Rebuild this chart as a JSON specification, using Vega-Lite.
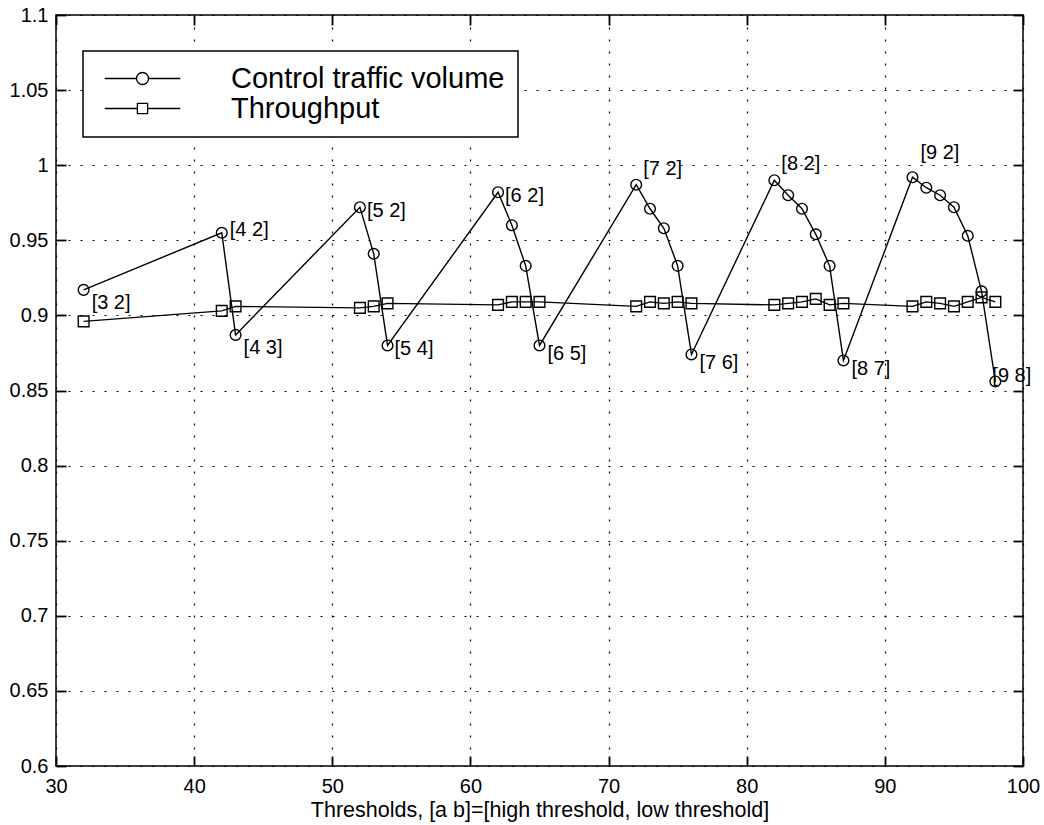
{
  "$schema": "https://vega.github.io/schema/vega-lite/v6.json",
  "width": 967,
  "height": 751,
  "autosize": {"type": "none"},
  "padding": {"left": 56, "top": 15, "right": 21, "bottom": 59},
  "background": "white",
  "config": {
    "font": "Liberation Sans",
    "view": {"stroke": "black", "strokeWidth": 1.5},
    "axis": {
      "domainColor": "black", "domainWidth": 1.5,
      "tickColor": "black", "tickWidth": 1.8,
      "labelColor": "black", "titleColor": "black",
      "gridColor": "black", "gridDash": [2, 10], "gridWidth": 1.2, "gridOpacity": 1,
      "labelFontSize": 20, "titleFontSize": 21.5, "titleFontWeight": "normal"
    },
    "legend": {"strokeWidth": 1.5}
  },
  "data": {
    "values": [
      {"threshold": 32, "value": 0.917, "series": "Control traffic volume", "label": "[3 2]"},
      {"threshold": 42, "value": 0.955, "series": "Control traffic volume", "label": "[4 2]"},
      {"threshold": 43, "value": 0.887, "series": "Control traffic volume", "label": "[4 3]"},
      {"threshold": 52, "value": 0.972, "series": "Control traffic volume", "label": "[5 2]"},
      {"threshold": 53, "value": 0.941, "series": "Control traffic volume", "label": ""},
      {"threshold": 54, "value": 0.880, "series": "Control traffic volume", "label": "[5 4]"},
      {"threshold": 62, "value": 0.982, "series": "Control traffic volume", "label": "[6 2]"},
      {"threshold": 63, "value": 0.960, "series": "Control traffic volume", "label": ""},
      {"threshold": 64, "value": 0.933, "series": "Control traffic volume", "label": ""},
      {"threshold": 65, "value": 0.880, "series": "Control traffic volume", "label": "[6 5]"},
      {"threshold": 72, "value": 0.987, "series": "Control traffic volume", "label": "[7 2]"},
      {"threshold": 73, "value": 0.971, "series": "Control traffic volume", "label": ""},
      {"threshold": 74, "value": 0.958, "series": "Control traffic volume", "label": ""},
      {"threshold": 75, "value": 0.933, "series": "Control traffic volume", "label": ""},
      {"threshold": 76, "value": 0.874, "series": "Control traffic volume", "label": "[7 6]"},
      {"threshold": 82, "value": 0.990, "series": "Control traffic volume", "label": "[8 2]"},
      {"threshold": 83, "value": 0.980, "series": "Control traffic volume", "label": ""},
      {"threshold": 84, "value": 0.971, "series": "Control traffic volume", "label": ""},
      {"threshold": 85, "value": 0.954, "series": "Control traffic volume", "label": ""},
      {"threshold": 86, "value": 0.933, "series": "Control traffic volume", "label": ""},
      {"threshold": 87, "value": 0.870, "series": "Control traffic volume", "label": "[8 7]"},
      {"threshold": 92, "value": 0.992, "series": "Control traffic volume", "label": "[9 2]"},
      {"threshold": 93, "value": 0.985, "series": "Control traffic volume", "label": ""},
      {"threshold": 94, "value": 0.980, "series": "Control traffic volume", "label": ""},
      {"threshold": 95, "value": 0.972, "series": "Control traffic volume", "label": ""},
      {"threshold": 96, "value": 0.953, "series": "Control traffic volume", "label": ""},
      {"threshold": 97, "value": 0.916, "series": "Control traffic volume", "label": ""},
      {"threshold": 98, "value": 0.856, "series": "Control traffic volume", "label": "[9 8]"},
      {"threshold": 32, "value": 0.896, "series": "Throughput", "label": ""},
      {"threshold": 42, "value": 0.903, "series": "Throughput", "label": ""},
      {"threshold": 43, "value": 0.906, "series": "Throughput", "label": ""},
      {"threshold": 52, "value": 0.905, "series": "Throughput", "label": ""},
      {"threshold": 53, "value": 0.906, "series": "Throughput", "label": ""},
      {"threshold": 54, "value": 0.908, "series": "Throughput", "label": ""},
      {"threshold": 62, "value": 0.907, "series": "Throughput", "label": ""},
      {"threshold": 63, "value": 0.909, "series": "Throughput", "label": ""},
      {"threshold": 64, "value": 0.909, "series": "Throughput", "label": ""},
      {"threshold": 65, "value": 0.909, "series": "Throughput", "label": ""},
      {"threshold": 72, "value": 0.906, "series": "Throughput", "label": ""},
      {"threshold": 73, "value": 0.909, "series": "Throughput", "label": ""},
      {"threshold": 74, "value": 0.908, "series": "Throughput", "label": ""},
      {"threshold": 75, "value": 0.909, "series": "Throughput", "label": ""},
      {"threshold": 76, "value": 0.908, "series": "Throughput", "label": ""},
      {"threshold": 82, "value": 0.907, "series": "Throughput", "label": ""},
      {"threshold": 83, "value": 0.908, "series": "Throughput", "label": ""},
      {"threshold": 84, "value": 0.909, "series": "Throughput", "label": ""},
      {"threshold": 85, "value": 0.911, "series": "Throughput", "label": ""},
      {"threshold": 86, "value": 0.907, "series": "Throughput", "label": ""},
      {"threshold": 87, "value": 0.908, "series": "Throughput", "label": ""},
      {"threshold": 92, "value": 0.906, "series": "Throughput", "label": ""},
      {"threshold": 93, "value": 0.909, "series": "Throughput", "label": ""},
      {"threshold": 94, "value": 0.908, "series": "Throughput", "label": ""},
      {"threshold": 95, "value": 0.906, "series": "Throughput", "label": ""},
      {"threshold": 96, "value": 0.909, "series": "Throughput", "label": ""},
      {"threshold": 97, "value": 0.912, "series": "Throughput", "label": ""},
      {"threshold": 98, "value": 0.909, "series": "Throughput", "label": ""}
    ]
  },
  "resolve": {"axis": {"x": "independent", "y": "independent"}, "scale": {"shape": "independent"}},
  "layer": [
    {
      "mark": {"type": "line", "color": "black", "strokeWidth": 1.4},
      "encoding": {
        "x": {"field": "threshold", "type": "quantitative",
          "scale": {"domain": [30, 100], "nice": false, "zero": false},
          "axis": {"orient": "bottom", "values": [30, 40, 50, 60, 70, 80, 90, 100], "grid": true,
            "ticks": false, "domain": false, "labelPadding": 10, "labelFlush": false,
            "title": "Thresholds, [a b]=[high threshold, low threshold]", "titlePadding": 3}},
        "y": {"field": "value", "type": "quantitative",
          "scale": {"domain": [0.6, 1.1], "nice": false, "zero": false},
          "axis": {"orient": "left", "values": [0.6, 0.65, 0.7, 0.75, 0.8, 0.85, 0.9, 0.95, 1, 1.05, 1.1],
            "format": ".2~f", "grid": true, "ticks": false, "domain": false, "labelPadding": 8, "labelFlush": false, "title": null}},
        "detail": {"field": "series"}
      }
    },
    {
      "mark": {"type": "point", "filled": false, "color": "black", "strokeWidth": 1.4, "size": 115, "opacity": 1},
      "encoding": {
        "x": {"field": "threshold", "type": "quantitative", "axis": null},
        "y": {"field": "value", "type": "quantitative", "axis": null},
        "shape": {"field": "series", "type": "nominal",
          "scale": {"domain": ["Control traffic volume", "Throughput"], "range": ["circle", "square"]},
          "legend": null}
      }
    },
    {
      "transform": [{"filter": "false"}],
      "mark": {"type": "point", "filled": false, "color": "black", "strokeWidth": 1.3, "opacity": 1},
      "encoding": {
        "x": {"field": "threshold", "type": "quantitative", "axis": null},
        "y": {"field": "value", "type": "quantitative", "axis": null},
        "shape": {"field": "series", "type": "nominal",
          "scale": {"domain": ["Control traffic volume", "Throughput"],
            "range": ["M-6.3,0H-1M1,0H6.3M-1,0A1,1 0 1,0 1,0A1,1 0 1,0 -1,0", "M-6.3,0H-0.85M0.85,0H6.3M-0.85,-0.85H0.85V0.85H-0.85Z"]},
          "legend": {
            "orient": "none", "legendX": 27, "legendY": 36, "title": null,
            "labelFontSize": 29, "labelColor": "black", "labelLimit": 600,
            "symbolSize": 144, "symbolStrokeWidth": 1.3, "symbolStrokeColor": "black", "symbolFillColor": "transparent", "symbolOpacity": 1,
            "strokeColor": "black", "fillColor": "white", "padding": 13,
            "symbolOffset": 32, "labelOffset": 74, "rowPadding": 0
          }
        }
      }
    },
    {
      "transform": [{"filter": {"field": "label", "oneOf": ["[5 2]", "[6 2]", "[5 4]"]}}],
      "mark": {"type": "text", "align": "left", "baseline": "middle", "dx": 7, "dy": 4, "fontSize": 20, "color": "black"},
      "encoding": {"x": {"field": "threshold", "type": "quantitative", "axis": null}, "y": {"field": "value", "type": "quantitative", "axis": null}, "text": {"field": "label"}}
    },
    {
      "transform": [{"filter": {"field": "label", "oneOf": ["[4 2]"]}}],
      "mark": {"type": "text", "align": "left", "baseline": "middle", "dx": 8, "dy": -3, "fontSize": 20, "color": "black"},
      "encoding": {"x": {"field": "threshold", "type": "quantitative", "axis": null}, "y": {"field": "value", "type": "quantitative", "axis": null}, "text": {"field": "label"}}
    },
    {
      "transform": [{"filter": {"field": "label", "oneOf": ["[3 2]", "[4 3]"]}}],
      "mark": {"type": "text", "align": "left", "baseline": "middle", "dx": 8, "dy": 13, "fontSize": 20, "color": "black"},
      "encoding": {"x": {"field": "threshold", "type": "quantitative", "axis": null}, "y": {"field": "value", "type": "quantitative", "axis": null}, "text": {"field": "label"}}
    },
    {
      "transform": [{"filter": {"field": "label", "oneOf": ["[6 5]", "[7 6]", "[8 7]"]}}],
      "mark": {"type": "text", "align": "left", "baseline": "middle", "dx": 8, "dy": 9, "fontSize": 20, "color": "black"},
      "encoding": {"x": {"field": "threshold", "type": "quantitative", "axis": null}, "y": {"field": "value", "type": "quantitative", "axis": null}, "text": {"field": "label"}}
    },
    {
      "transform": [{"filter": {"field": "label", "oneOf": ["[7 2]", "[8 2]"]}}],
      "mark": {"type": "text", "align": "left", "baseline": "middle", "dx": 7, "dy": -16, "fontSize": 20, "color": "black"},
      "encoding": {"x": {"field": "threshold", "type": "quantitative", "axis": null}, "y": {"field": "value", "type": "quantitative", "axis": null}, "text": {"field": "label"}}
    },
    {
      "transform": [{"filter": {"field": "label", "oneOf": ["[9 2]"]}}],
      "mark": {"type": "text", "align": "left", "baseline": "middle", "dx": 8, "dy": -24, "fontSize": 20, "color": "black"},
      "encoding": {"x": {"field": "threshold", "type": "quantitative", "axis": null}, "y": {"field": "value", "type": "quantitative", "axis": null}, "text": {"field": "label"}}
    },
    {
      "transform": [{"filter": {"field": "label", "oneOf": ["[9 8]"]}}],
      "mark": {"type": "text", "align": "left", "baseline": "middle", "dx": -3, "dy": -5, "fontSize": 20, "color": "black"},
      "encoding": {"x": {"field": "threshold", "type": "quantitative", "axis": null}, "y": {"field": "value", "type": "quantitative", "axis": null}, "text": {"field": "label"}}
    },
    {
      "mark": {"type": "point", "opacity": 0},
      "encoding": {
        "x": {"field": "threshold", "type": "quantitative",
          "axis": {"orient": "bottom", "offset": -10, "values": [30, 40, 50, 60, 70, 80, 90, 100], "labels": false, "grid": false, "domain": false, "ticks": true, "tickSize": 10, "title": null}},
        "y": {"field": "value", "type": "quantitative",
          "axis": {"orient": "left", "offset": -10, "values": [0.6, 0.65, 0.7, 0.75, 0.8, 0.85, 0.9, 0.95, 1, 1.05, 1.1], "labels": false, "grid": false, "domain": false, "ticks": true, "tickSize": 10, "title": null}}
      }
    },
    {
      "mark": {"type": "point", "opacity": 0},
      "encoding": {
        "x": {"field": "threshold", "type": "quantitative",
          "axis": {"orient": "top", "offset": -10, "values": [30, 40, 50, 60, 70, 80, 90, 100], "labels": false, "grid": false, "domain": false, "ticks": true, "tickSize": 10, "title": null}},
        "y": {"field": "value", "type": "quantitative",
          "axis": {"orient": "right", "offset": -10, "values": [0.6, 0.65, 0.7, 0.75, 0.8, 0.85, 0.9, 0.95, 1, 1.05, 1.1], "labels": false, "grid": false, "domain": false, "ticks": true, "tickSize": 10, "title": null}}
      }
    }
  ]
}
